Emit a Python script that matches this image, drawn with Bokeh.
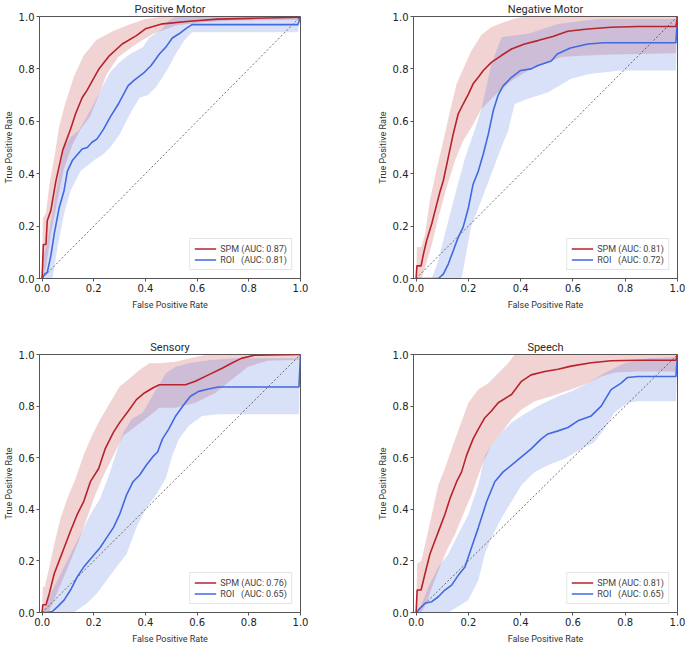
from bokeh.plotting import figure
from bokeh.layouts import column, row
from bokeh.models import FixedTicker, PrintfTickFormatter, Range1d
from bokeh.embed import file_html
from bokeh.resources import INLINE

TICKS = [0.0, 0.2, 0.4, 0.6, 0.8, 1.0]
DIAG = [0.0, 1.0]
TITLES = ["Positive Motor", "Negative Motor", "Sensory", "Speech"]
SPM_AUC = ["0.87", "0.81", "0.76", "0.81"]
ROI_AUC = ["0.81", "0.72", "0.65", "0.65"]

# ---------------- Positive Motor ----------------
PM_SPM_X = [0, 0.005, 0.015, 0.02, 0.034, 0.053, 0.08, 0.11, 0.13, 0.155, 0.175, 0.22, 0.26, 0.31, 0.365, 0.40, 0.466, 0.57, 0.68, 0.81, 1.0]
PM_SPM_Y = [0, 0.13, 0.13, 0.22, 0.26, 0.37, 0.49, 0.57, 0.63, 0.69, 0.72, 0.80, 0.85, 0.895, 0.927, 0.953, 0.972, 0.982, 0.99, 0.993, 0.997]
PM_SPM_UP_X = [0, 0.003, 0.015, 0.03, 0.047, 0.066, 0.09, 0.123, 0.16, 0.21, 0.275, 0.34, 0.40, 0.466, 1.0]
PM_SPM_UP_Y = [0, 0.23, 0.25, 0.37, 0.46, 0.58, 0.67, 0.77, 0.85, 0.91, 0.945, 0.97, 0.99, 1.0, 1.0]
PM_SPM_LO_X = [0, 0.015, 0.034, 0.06, 0.085, 0.117, 0.149, 0.187, 0.219, 0.25, 0.295, 0.365, 0.43, 0.517, 0.62, 0.746, 1.0]
PM_SPM_LO_Y = [0, 0.04, 0.17, 0.30, 0.42, 0.51, 0.57, 0.62, 0.70, 0.78, 0.845, 0.896, 0.934, 0.966, 0.978, 0.985, 0.987]
PM_ROI_X = [0, 0.01, 0.02, 0.034, 0.047, 0.066, 0.085, 0.098, 0.117, 0.155, 0.175, 0.193, 0.212, 0.238, 0.263, 0.295, 0.333, 0.358, 0.396, 0.422, 0.454, 0.479, 0.504, 0.53, 0.555, 0.58, 0.99, 1.0]
PM_ROI_Y = [0, 0.017, 0.023, 0.087, 0.17, 0.27, 0.335, 0.41, 0.45, 0.494, 0.50, 0.52, 0.532, 0.57, 0.615, 0.666, 0.736, 0.758, 0.787, 0.813, 0.857, 0.883, 0.918, 0.934, 0.953, 0.969, 0.969, 1.0]
PM_ROI_UP_X = [0, 0.003, 0.02, 0.04, 0.066, 0.085, 0.11, 0.142, 0.193, 0.225, 0.263, 0.30, 0.34, 0.39, 0.415, 0.466, 0.49, 0.52, 1.0]
PM_ROI_UP_Y = [0, 0.08, 0.14, 0.25, 0.40, 0.50, 0.54, 0.565, 0.653, 0.717, 0.787, 0.825, 0.857, 0.883, 0.92, 0.953, 0.985, 1.0, 1.0]
PM_ROI_LO_X = [0, 0.04, 0.06, 0.085, 0.11, 0.149, 0.2, 0.238, 0.263, 0.30, 0.34, 0.377, 0.41, 0.44, 0.466, 0.49, 0.517, 0.55, 0.58, 0.99, 1.0]
PM_ROI_LO_Y = [0, 0, 0.12, 0.246, 0.335, 0.41, 0.45, 0.475, 0.50, 0.55, 0.628, 0.69, 0.70, 0.73, 0.768, 0.806, 0.857, 0.908, 0.94, 0.94, 1.0]

# ---------------- Negative Motor ----------------
NM_SPM_X = [0, 0.003, 0.019, 0.028, 0.04, 0.06, 0.079, 0.091, 0.104, 0.123, 0.142, 0.161, 0.18, 0.2, 0.218, 0.238, 0.257, 0.288, 0.326, 0.365, 0.415, 0.466, 0.523, 0.58, 0.657, 0.746, 0.848, 0.994, 1.0]
NM_SPM_Y = [0, 0.048, 0.048, 0.093, 0.144, 0.21, 0.284, 0.33, 0.373, 0.462, 0.552, 0.628, 0.666, 0.704, 0.743, 0.768, 0.794, 0.825, 0.851, 0.876, 0.895, 0.908, 0.924, 0.944, 0.952, 0.959, 0.962, 0.962, 1.0]
NM_SPM_UP_X = [0, 0.003, 0.02, 0.034, 0.053, 0.079, 0.104, 0.13, 0.155, 0.18, 0.212, 0.25, 0.288, 0.34, 0.39, 0.44, 1.0]
NM_SPM_UP_Y = [0, 0.12, 0.12, 0.17, 0.30, 0.42, 0.526, 0.64, 0.743, 0.80, 0.87, 0.93, 0.96, 0.98, 0.995, 1.0, 1.0]
NM_SPM_LO_X = [0, 0.02, 0.034, 0.06, 0.085, 0.117, 0.149, 0.18, 0.212, 0.25, 0.301, 0.365, 0.428, 0.49, 0.555, 0.63, 0.757, 0.994, 1.0]
NM_SPM_LO_Y = [0, 0, 0.04, 0.13, 0.233, 0.348, 0.45, 0.526, 0.577, 0.647, 0.698, 0.755, 0.794, 0.819, 0.845, 0.85, 0.855, 0.86, 1.0]
NM_ROI_X = [0, 0.085, 0.104, 0.123, 0.142, 0.161, 0.18, 0.2, 0.218, 0.238, 0.257, 0.276, 0.295, 0.314, 0.333, 0.365, 0.40, 0.44, 0.466, 0.517, 0.54, 0.59, 0.657, 0.72, 0.994, 1.0]
NM_ROI_Y = [0, 0, 0.017, 0.055, 0.106, 0.157, 0.196, 0.27, 0.36, 0.41, 0.475, 0.55, 0.64, 0.70, 0.735, 0.768, 0.794, 0.80, 0.813, 0.83, 0.857, 0.88, 0.895, 0.90, 0.90, 1.0]
NM_ROI_UP_X = [0, 0.06, 0.085, 0.11, 0.149, 0.187, 0.225, 0.25, 0.288, 0.327, 0.428, 0.54, 0.593, 0.644, 0.7, 1.0]
NM_ROI_UP_Y = [0, 0, 0.07, 0.17, 0.32, 0.46, 0.57, 0.647, 0.819, 0.921, 0.934, 0.97, 0.978, 0.985, 0.99, 0.99]
NM_ROI_LO_X = [0, 0.174, 0.21, 0.25, 0.288, 0.326, 0.352, 0.377, 0.428, 0.505, 0.593, 0.657, 0.78, 0.994, 1.0]
NM_ROI_LO_Y = [0, 0, 0.196, 0.30, 0.40, 0.50, 0.564, 0.666, 0.686, 0.711, 0.762, 0.78, 0.794, 0.794, 1.0]

# ---------------- Sensory ----------------
SE_SPM_X = [0, 0.003, 0.015, 0.028, 0.047, 0.066, 0.085, 0.11, 0.136, 0.161, 0.187, 0.219, 0.244, 0.276, 0.30, 0.333, 0.365, 0.396, 0.428, 0.454, 0.555, 0.593, 0.644, 0.695, 0.733, 0.771, 0.822, 1.0]
SE_SPM_Y = [0, 0.03, 0.03, 0.074, 0.15, 0.20, 0.25, 0.316, 0.38, 0.43, 0.507, 0.558, 0.634, 0.698, 0.736, 0.78, 0.825, 0.851, 0.87, 0.883, 0.883, 0.896, 0.921, 0.946, 0.966, 0.985, 0.997, 1.0]
SE_SPM_UP_X = [0, 0.003, 0.01, 0.028, 0.047, 0.072, 0.098, 0.13, 0.161, 0.193, 0.225, 0.263, 0.30, 0.34, 0.377, 0.415, 0.454, 0.517, 0.593, 0.64, 1.0]
SE_SPM_UP_Y = [0, 0.10, 0.10, 0.176, 0.265, 0.367, 0.443, 0.52, 0.61, 0.685, 0.749, 0.813, 0.876, 0.908, 0.94, 0.966, 0.966, 0.972, 0.99, 1.0, 1.0]
SE_SPM_LO_X = [0, 0.025, 0.047, 0.079, 0.11, 0.142, 0.174, 0.206, 0.238, 0.276, 0.314, 0.365, 0.415, 0.454, 0.517, 0.593, 0.67, 0.733, 0.797, 0.873, 1.0]
SE_SPM_LO_Y = [0, 0, 0.05, 0.125, 0.20, 0.278, 0.367, 0.456, 0.532, 0.609, 0.685, 0.724, 0.762, 0.794, 0.794, 0.813, 0.851, 0.902, 0.953, 0.976, 0.98]
SE_ROI_X = [0, 0.02, 0.04, 0.06, 0.085, 0.11, 0.136, 0.161, 0.193, 0.225, 0.25, 0.276, 0.30, 0.327, 0.352, 0.377, 0.403, 0.428, 0.447, 0.466, 0.49, 0.517, 0.549, 0.574, 0.606, 0.644, 0.682, 0.994, 1.0]
SE_ROI_Y = [0, 0, 0.004, 0.023, 0.048, 0.087, 0.138, 0.176, 0.214, 0.252, 0.29, 0.329, 0.38, 0.456, 0.507, 0.532, 0.571, 0.603, 0.622, 0.673, 0.711, 0.762, 0.806, 0.838, 0.857, 0.866, 0.874, 0.874, 1.0]
SE_ROI_UP_X = [0, 0.01, 0.034, 0.072, 0.11, 0.149, 0.187, 0.225, 0.263, 0.288, 0.314, 0.346, 0.39, 0.441, 0.479, 0.517, 0.568, 0.644, 0.746, 1.0]
SE_ROI_UP_Y = [0, 0.02, 0.074, 0.15, 0.227, 0.303, 0.38, 0.443, 0.545, 0.622, 0.698, 0.749, 0.775, 0.864, 0.927, 0.953, 0.966, 0.978, 0.985, 0.985]
SE_ROI_LO_X = [0, 0.123, 0.174, 0.212, 0.25, 0.288, 0.327, 0.365, 0.403, 0.441, 0.479, 0.504, 0.53, 0.568, 0.619, 0.682, 0.994, 1.0]
SE_ROI_LO_Y = [0, 0, 0.036, 0.074, 0.125, 0.176, 0.227, 0.329, 0.405, 0.456, 0.52, 0.609, 0.673, 0.724, 0.762, 0.768, 0.768, 1.0]

# ---------------- Speech ----------------
SP_SPM_X = [0, 0.004, 0.019, 0.034, 0.053, 0.072, 0.091, 0.11, 0.13, 0.155, 0.174, 0.193, 0.218, 0.238, 0.263, 0.288, 0.314, 0.365, 0.403, 0.44, 0.492, 0.543, 0.593, 0.67, 0.746, 0.848, 0.994, 1.0]
SP_SPM_Y = [0, 0.087, 0.087, 0.15, 0.227, 0.278, 0.329, 0.38, 0.443, 0.507, 0.545, 0.609, 0.673, 0.711, 0.755, 0.781, 0.813, 0.845, 0.896, 0.921, 0.934, 0.943, 0.955, 0.968, 0.976, 0.978, 0.978, 1.0]
SP_SPM_UP_X = [0, 0.004, 0.02, 0.04, 0.06, 0.085, 0.11, 0.136, 0.168, 0.2, 0.238, 0.276, 0.314, 0.352, 0.377, 1.0]
SP_SPM_UP_Y = [0, 0.19, 0.20, 0.29, 0.38, 0.494, 0.558, 0.634, 0.724, 0.813, 0.864, 0.889, 0.927, 0.966, 1.0, 1.0]
SP_SPM_LO_X = [0, 0.02, 0.04, 0.066, 0.091, 0.117, 0.149, 0.18, 0.212, 0.238, 0.263, 0.288, 0.327, 0.365, 0.403, 0.454, 0.517, 0.593, 0.657, 0.708, 0.759, 0.848, 0.994, 1.0]
SP_SPM_LO_Y = [0, 0, 0.036, 0.112, 0.176, 0.24, 0.303, 0.38, 0.456, 0.532, 0.596, 0.647, 0.698, 0.749, 0.787, 0.819, 0.838, 0.864, 0.889, 0.915, 0.93, 0.934, 0.934, 1.0]
SP_ROI_X = [0, 0.009, 0.034, 0.06, 0.085, 0.11, 0.136, 0.161, 0.187, 0.212, 0.238, 0.27, 0.301, 0.333, 0.365, 0.403, 0.44, 0.479, 0.504, 0.543, 0.581, 0.619, 0.67, 0.708, 0.746, 0.784, 0.809, 0.848, 0.994, 1.0]
SP_ROI_Y = [0, 0.01, 0.036, 0.042, 0.061, 0.087, 0.106, 0.144, 0.176, 0.252, 0.329, 0.43, 0.507, 0.545, 0.571, 0.603, 0.634, 0.673, 0.692, 0.704, 0.717, 0.743, 0.762, 0.80, 0.864, 0.889, 0.911, 0.915, 0.915, 1.0]
SP_ROI_UP_X = [0, 0.02, 0.047, 0.085, 0.123, 0.161, 0.2, 0.238, 0.263, 0.288, 0.327, 0.365, 0.403, 0.466, 0.543, 0.593, 0.657, 0.72, 0.797, 0.886, 1.0]
SP_ROI_UP_Y = [0, 0.03, 0.10, 0.176, 0.227, 0.303, 0.38, 0.494, 0.609, 0.647, 0.698, 0.736, 0.762, 0.80, 0.838, 0.857, 0.889, 0.927, 0.966, 0.985, 0.99]
SP_ROI_LO_X = [0, 0.123, 0.161, 0.2, 0.238, 0.263, 0.288, 0.327, 0.365, 0.403, 0.454, 0.504, 0.568, 0.632, 0.682, 0.72, 0.759, 0.81, 0.848, 0.994, 1.0]
SP_ROI_LO_Y = [0, 0, 0.023, 0.048, 0.125, 0.227, 0.29, 0.367, 0.43, 0.494, 0.545, 0.571, 0.596, 0.634, 0.66, 0.711, 0.775, 0.813, 0.819, 0.819, 1.0]

RED = "#b8222a"
BLUE = "#4169e1"
LABEL_FONT = "Roboto"
TICK_FONT = "DejaVu Sans"


def band(p, ux, uy, lx, ly, color):
    xs = list(ux) + list(reversed(lx))
    ys = list(uy) + list(reversed(ly))
    p.patch(xs, ys, fill_color=color, fill_alpha=0.2, line_color=None)


def make_panel(idx, left, top, spm, spm_up, spm_lo, roi, roi_up, roi_lo):
    width = 320 if left else 365
    height = 338 if top else 308
    p = figure(
        width=width, height=height,
        x_range=Range1d(-0.01, 1.0), y_range=Range1d(0.0, 1.0),
        title=TITLES[idx],
        output_backend="svg", toolbar_location=None,
        min_border_left=36 if left else 93,
        min_border_right=20 if left else 8,
        min_border_top=16,
        min_border_bottom=60 if top else 30,
    )
    p.title.text_font = LABEL_FONT
    p.title.text_font_size = "11px"
    p.title.text_font_style = "normal"
    p.title.text_color = "#2a2a2a"
    p.title.align = "center"
    p.title.standoff = 1

    p.xgrid.visible = False
    p.ygrid.visible = False
    p.outline_line_color = "#555555"
    p.outline_line_width = 1
    p.background_fill_color = "white"
    p.border_fill_color = "white"

    for ax in (p.xaxis[0], p.yaxis[0]):
        ax.ticker = FixedTicker(ticks=TICKS)
        ax.formatter = PrintfTickFormatter(format="%.1f")
        ax.axis_line_color = "#555555"
        ax.major_tick_line_color = "#555555"
        ax.major_tick_in = 0
        ax.major_tick_out = 3
        ax.minor_tick_line_color = None
        ax.major_label_text_font = TICK_FONT
        ax.major_label_text_font_size = "10px"
        ax.major_label_text_color = "#222222"
        ax.major_label_standoff = 2
        ax.axis_label_text_font = LABEL_FONT
        ax.axis_label_text_font_size = "9px"
        ax.axis_label_text_font_style = "normal"
        ax.axis_label_text_color = "#333333"
    p.xaxis.axis_label = "False Positive Rate"
    p.yaxis.axis_label = "True Positive Rate"
    p.xaxis.axis_label_standoff = 5
    p.yaxis.axis_label_standoff = 2
    p.yaxis.major_label_orientation = "horizontal"

    band(p, spm_up[0], spm_up[1], spm_lo[0], spm_lo[1], RED)
    band(p, roi_up[0], roi_up[1], roi_lo[0], roi_lo[1], BLUE)
    p.line(DIAG, DIAG, line_color="#333333", line_width=0.7, line_dash="2 2")
    p.line(roi[0], roi[1], line_color=BLUE, line_width=1.6,
           legend_label="ROI   (AUC: %s)" % ROI_AUC[idx])
    p.line(spm[0], spm[1], line_color=RED, line_width=1.6,
           legend_label="SPM (AUC: %s)" % SPM_AUC[idx])
    items = p.legend[0].items
    p.legend[0].items = [items[1], items[0]]

    lg = p.legend[0]
    lg.location = "bottom_right"
    lg.margin = 8
    lg.padding = 4
    lg.spacing = 0
    lg.label_text_font = LABEL_FONT
    lg.label_text_font_size = "9px"
    lg.label_height = 11
    lg.glyph_height = 11
    lg.glyph_width = 22
    lg.label_standoff = 4
    lg.border_line_color = "#cccccc"
    lg.border_line_width = 1
    lg.background_fill_alpha = 0.9
    return p


p1 = make_panel(0, True, True, (PM_SPM_X, PM_SPM_Y), (PM_SPM_UP_X, PM_SPM_UP_Y), (PM_SPM_LO_X, PM_SPM_LO_Y),
                (PM_ROI_X, PM_ROI_Y), (PM_ROI_UP_X, PM_ROI_UP_Y), (PM_ROI_LO_X, PM_ROI_LO_Y))
p2 = make_panel(1, False, True, (NM_SPM_X, NM_SPM_Y), (NM_SPM_UP_X, NM_SPM_UP_Y), (NM_SPM_LO_X, NM_SPM_LO_Y),
                (NM_ROI_X, NM_ROI_Y), (NM_ROI_UP_X, NM_ROI_UP_Y), (NM_ROI_LO_X, NM_ROI_LO_Y))
p3 = make_panel(2, True, False, (SE_SPM_X, SE_SPM_Y), (SE_SPM_UP_X, SE_SPM_UP_Y), (SE_SPM_LO_X, SE_SPM_LO_Y),
                (SE_ROI_X, SE_ROI_Y), (SE_ROI_UP_X, SE_ROI_UP_Y), (SE_ROI_LO_X, SE_ROI_LO_Y))
p4 = make_panel(3, False, False, (SP_SPM_X, SP_SPM_Y), (SP_SPM_UP_X, SP_SPM_UP_Y), (SP_SPM_LO_X, SP_SPM_LO_Y),
                (SP_ROI_X, SP_ROI_Y), (SP_ROI_UP_X, SP_ROI_UP_Y), (SP_ROI_LO_X, SP_ROI_LO_Y))

layout = column(row(p1, p2, spacing=0), row(p3, p4, spacing=0), spacing=0)

with open("out.html", "w") as f:
    f.write(file_html(layout, INLINE))
